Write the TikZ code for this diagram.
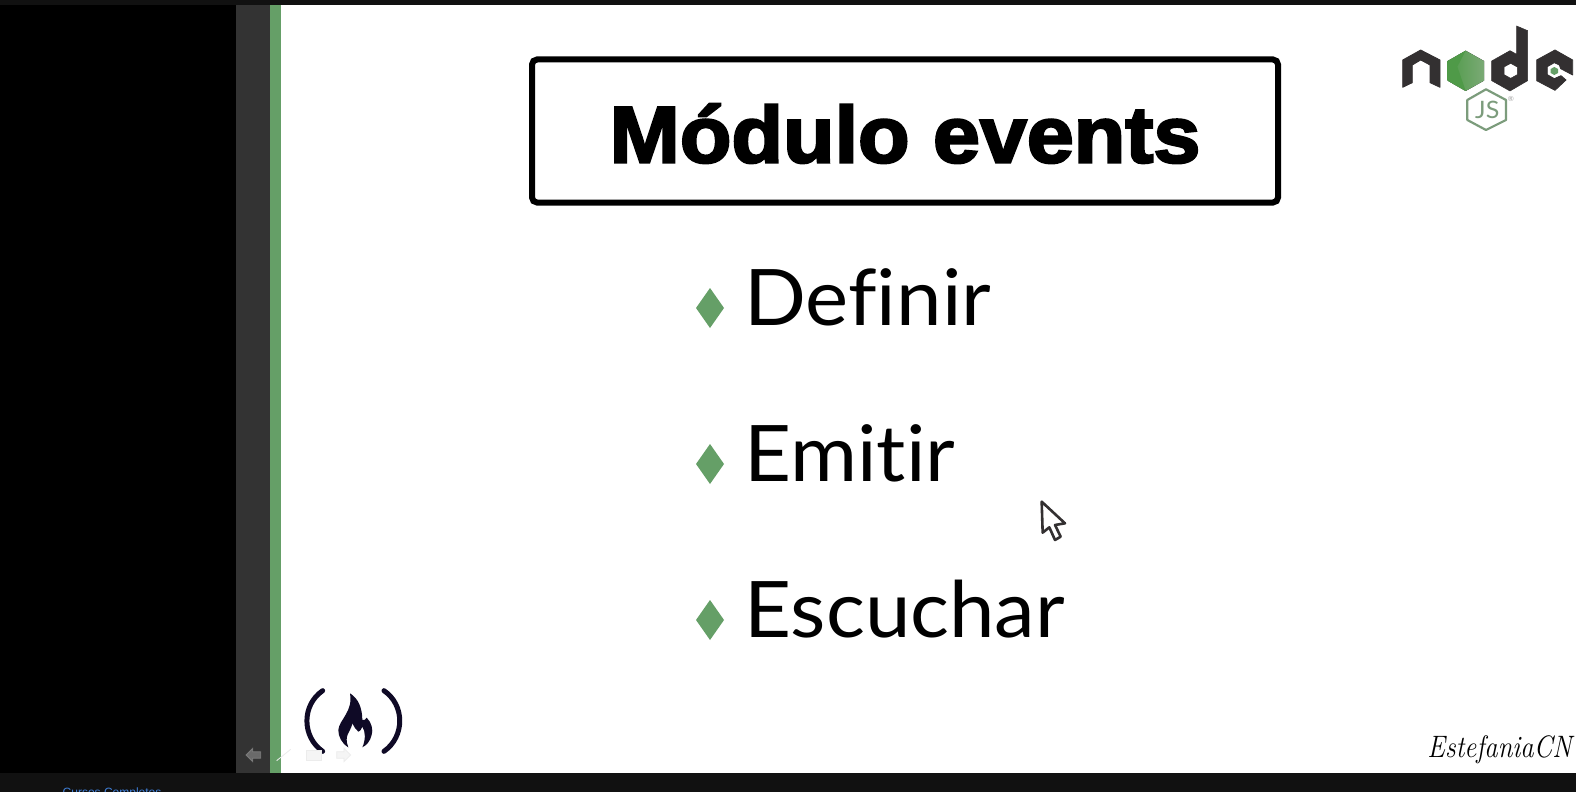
\documentclass[tikz,border=0pt]{standalone}
\usepackage{fontspec}
\setmainfont{Lato}[Ligatures={NoCommon},FakeStretch=1.045]
\newfontfamily\blackf{Liberation Sans Bold}[FakeBold=3,FakeStretch=1.055]
\newfontfamily\arialf{Liberation Sans}
\newfontfamily\scriptf{Latin Modern Roman}[FakeStretch=0.86]
\definecolor{topbar}{HTML}{111111}
\definecolor{sidegray}{HTML}{333333}
\definecolor{slidegreen}{HTML}{659F67}
\definecolor{nodedark}{HTML}{333031}
\definecolor{flame}{HTML}{0F0A26}
\definecolor{nodegreenL}{HTML}{4F9A48}
\definecolor{nodegreenR}{HTML}{7BAA76}
\definecolor{jsgreen}{HTML}{7C9C7C}
\definecolor{linkblue}{HTML}{3F7FD8}
\tikzset{
  px/.style={x=1pt,y=-1pt},
  itemtext/.style={anchor=base west,inner sep=0pt,font=\fontsize{78}{78}\selectfont,text=black},
  bullet/.style={fill=slidegreen,draw=none},
  navicon/.style={draw=white!75!gray,fill=white!85!gray,line width=.8pt,opacity=.3},
  navlight/.style={draw=white!85!gray,fill=white!92!gray,line width=.8pt},
  logodark/.style={fill=nodedark,draw=nodedark,line width=.8pt,line join=round},
}
\begin{document}
\begin{tikzpicture}[px]
\useasboundingbox (0,0) rectangle (1576,792);
\begin{scope}
\clip (0,0) rectangle (1576,792);
\fill[white] (0,0) rectangle (1576,792);
\fill[black] (0,0) rectangle (236,773);
\fill[sidegray] (236,0) rectangle (270,773);
\fill[slidegreen] (270,0) rectangle (281,773);
\fill[topbar] (0,0) rectangle (1576,5);
\fill[topbar] (0,773) rectangle (1576,792);
\node[anchor=base west,inner sep=0pt,text=linkblue,font=\arialf\fontsize{12}{12}\selectfont] (link) at (62.5,796) {Cursos Completos};
% title
\node[draw=black,line width=6pt,rounded corners=5pt,minimum width=746pt,minimum height=143pt,inner sep=0pt] (titlebox) at (905,131) {};
\node[anchor=base,inner sep=0pt,font=\blackf\fontsize{80}{80}\selectfont] (title) at (905,162.5) {Módulo events};
% items
\foreach \n/\yy/\t in {a/325/Definir,b/481/Emitir,c/637/Escuchar}{
  \node[itemtext] (item\n) at (744,\yy) {\t};
  \fill[bullet] (710,\yy-37) -- (724,\yy-17) -- (710,\yy+3) -- (696,\yy-17) -- cycle;
}
% cursor
\begin{scope}[shift={(1020,490)},scale=0.3333]
\draw[draw=nodedark,fill=white,line width=2.6pt,line join=round] (65,35) -- (135,100) -- (105,105) -- (122,140) -- (105,150) -- (88,112) -- (68,128) -- cycle;
\end{scope}
% node logo
\begin{scope}[shift={(1380,10)},scale=0.3333]
\fill[logodark] (68,150) -- (122,120) -- (180,150) -- (180,232) -- (150,218) -- (150,165) -- (122,150) -- (97,165) -- (97,218) -- (68,232) -- cycle;
\fill[left color=nodegreenL,right color=nodegreenR] (257,122) -- (312,153) -- (312,212) -- (257,243) -- (203,212) -- (203,153) -- cycle;
\fill[nodegreenL] (257,122) -- (203,153) -- (203,212) -- (257,243) -- (232,170) -- cycle;
\fill[nodedark,draw=nodedark,line width=.5pt,even odd rule] (335,153) -- (390,122) -- (410,133) -- (410,48) -- (443,62) -- (443,212) -- (390,243) -- (335,212) -- cycle
  (392,160) -- (412,171) -- (412,194) -- (392,205) -- (372,194) -- (372,171) -- cycle;
\fill[logodark] (470,150) -- (525,120) -- (578,150) -- (578,195) -- (542,176) -- (538,165) -- (523,158) -- (502,170) -- (502,194) -- (523,206) -- (543,197) -- (558,210) -- (525,241) -- (470,212) -- cycle;
\fill[slidegreen] (523,171) -- (534,177) -- (534,189) -- (523,195) -- (512,189) -- (512,177) -- cycle;
\draw[jsgreen,line width=2.2pt,line join=round] (318,238) -- (378,270) -- (378,330) -- (318,360) -- (262,330) -- (262,270) -- cycle;
\node[inner sep=0pt,text=jsgreen,font=\fontsize{24}{24}\selectfont] (js) at (322,300) {JS};
\node[inner sep=0pt,text=gray!70,font=\fontsize{7}{7}\selectfont] (reg) at (393,268) {®};
\end{scope}
% freecodecamp logo
\begin{scope}[shift={(230,670)},scale=0.3333]
\draw[flame,line width=5pt,line cap=round] (278,62) .. controls (215,105) and (215,200) .. (278,244);
\draw[flame,line width=5pt,line cap=round] (462,62) .. controls (525,105) and (525,200) .. (462,244);
\draw[navicon] (48,255) -- (68,235) -- (68,245) -- (92,245) -- (92,265) -- (68,265) -- (68,275) -- cycle;
\draw[navlight] (140,272) -- (182,238);
\draw[navlight] (228,242) -- (274,242) -- (274,272) -- (228,272) -- cycle;
\draw[navlight] (320,245) -- (342,245) -- (342,235) -- (362,255) -- (342,275) -- (342,265) -- (320,265) -- cycle;
\end{scope}
\begin{scope}[shift={(325,685)},scale=0.3333]
\fill[flame] (75,25) .. controls (100,40) and (112,70) .. (112,105) .. controls (118,106) and (122,104) .. (125,98) .. controls (140,112) and (145,135) .. (140,150) .. controls (135,170) and (125,180) .. (112,187) .. controls (122,165) and (122,140) .. (112,125) .. controls (108,135) and (104,140) .. (100,140) .. controls (92,135) and (88,125) .. (82,115) .. controls (78,140) and (55,150) .. (70,187) .. controls (50,175) and (40,155) .. (40,135) .. controls (42,105) and (85,80) .. (75,25) -- cycle;
\end{scope}
% signature
\node[anchor=base east,inner sep=0pt,font=\scriptf\itshape\fontsize{31}{31}\selectfont,text=black] (sign) at (1572,757) {EstefaniaCN};
\end{scope}
\end{tikzpicture}
\end{document}
